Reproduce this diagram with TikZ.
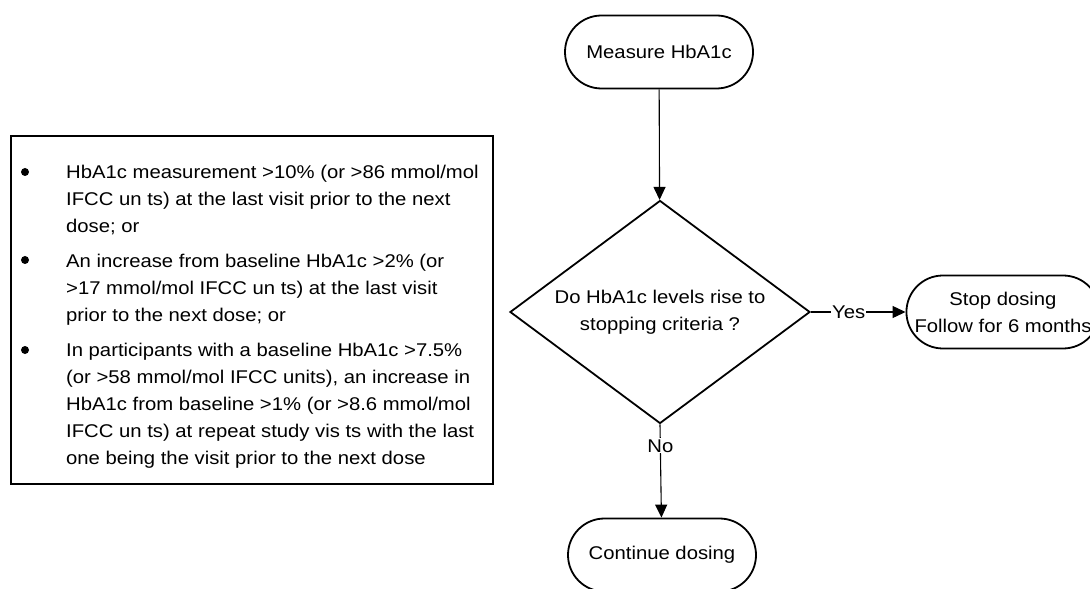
\documentclass[tikz,border=0pt]{standalone}
\usepackage{fontspec}
\setmainfont{Liberation Sans}[FakeStretch=1.1]
\usepackage{tikz}
\usetikzlibrary{shapes.geometric, shapes.misc, arrows.meta, positioning}
\tikzset{
	terminal/.style ={rounded rectangle, draw=black, line width=1.8pt, minimum width=192bp, minimum height=73bp, align=center, inner sep=2pt},
	decision/.style ={diamond, aspect=1.345, draw=black, line width=1.8pt, minimum width=300bp, minimum height=223bp, align=center, inner sep=0pt},
	critbox/.style  ={rectangle, draw=black, line width=2.6pt, minimum width=482bp, minimum height=348bp, inner sep=0pt},
	critline/.style ={anchor=north west, align=left, inner sep=0pt},
	bulletdot/.style={circle, fill=black, minimum size=8bp, inner sep=0pt},
	flowarrow/.style={-{Triangle[length=13bp, width=12bp]}, line width=1.1pt},
	answer/.style   ={fill=white, inner sep=1pt},
}

\begin{document}
\begin{tikzpicture}[x=1bp, y=-1bp, font=\fontsize{18.5}{27}\selectfont]
	\useasboundingbox (0,0) rectangle (1090,589);
	% stopping criteria
	\node[critbox] (crit) at (252,310) {};
	\node[bulletdot] (b1) at (25,172) {};
	\node[bulletdot] (b2) at (25,260) {};
	\node[bulletdot] (b3) at (25,350) {};
	\node[critline] (c1) at (66,165) {HbA1c measurement >10\% (or >86 mmol/mol\\IFCC un ts) at the last visit prior to the next\\dose; or};
	\node[critline] (c2) at (66,254) {An increase from baseline HbA1c >2\% (or\\>17 mmol/mol IFCC un ts) at the last visit\\prior to the next dose; or};
	\node[critline] (c3) at (66,343) {In participants with a baseline HbA1c >7.5\%\\(or >58 mmol/mol IFCC units), an increase in\\HbA1c from baseline >1\% (or >8.6 mmol/mol\\IFCC un ts) at repeat study vis ts with the last\\one being the visit prior to the next dose};
	% flow
	\node[terminal] (measure) at (659,52) {Measure HbA1c};
	\node[decision] (check) at (660,312) {Do HbA1c levels rise to\\stopping criteria ?};
	\node[terminal] (stop) at (1003,312) {Stop dosing\\Follow for 6 months};
	\node[terminal] (cont) at (662,555) {Continue dosing};
	\draw[flowarrow] (measure) -- (check);
	\draw[flowarrow] (check.east) -- node[answer, pos=0.4] {Yes} (stop);
	\draw[flowarrow] (check.south) -- node[answer, pos=0.23] {No} (cont);
\end{tikzpicture}
\end{document}
